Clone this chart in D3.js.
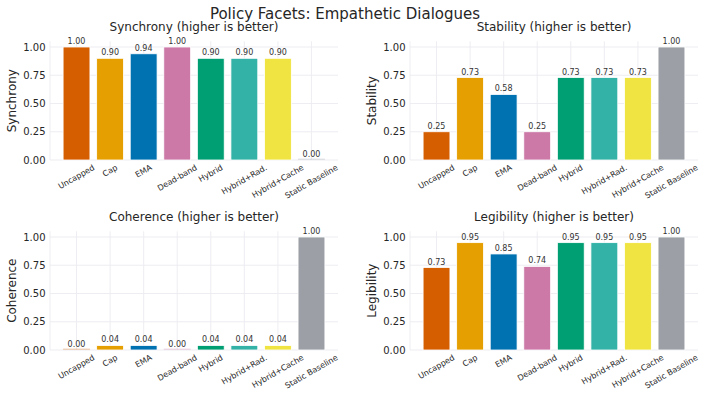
<!DOCTYPE html>
<html><head><meta charset="utf-8">
<script src="https://cdn.jsdelivr.net/npm/d3@7"></script>
<style>body{margin:0;background:#fff}svg{display:block;font-family:"DejaVu Sans",sans-serif}</style>
</head><body><svg id="c" width="707" height="398"></svg>
<script>
const categories = ["Uncapped","Cap","EMA","Dead-band","Hybrid","Hybrid+Rad.","Hybrid+Cache","Static Baseline"];
const colors = ["#D55E00","#E69F00","#0072B2","#CC79A7","#009E73","#33B2A7","#F0E442","#9CA0A6"];
const synchrony = [1.00,0.90,0.94,1.00,0.90,0.90,0.90,0.00];
const stability = [0.25,0.73,0.58,0.25,0.73,0.73,0.73,1.00];
const coherence = [0.00,0.04,0.04,0.00,0.04,0.04,0.04,1.00];
const legibility = [0.73,0.95,0.85,0.74,0.95,0.95,0.95,1.00];
const yTicks = [0,0.25,0.5,0.75,1.0];
const mainTitle = "Policy Facets: Empathetic Dialogues";

const panels = [
  {title:"Synchrony (higher is better)", label:"Synchrony", values:synchrony, x0:50, x1:338, top:41.35, bottom:160},
  {title:"Stability (higher is better)", label:"Stability", values:stability, x0:410, x1:698, top:41.35, bottom:160},
  {title:"Coherence (higher is better)", label:"Coherence", values:coherence, x0:50, x1:338, top:231.35, bottom:350},
  {title:"Legibility (higher is better)", label:"Legibility", values:legibility, x0:410, x1:698, top:231.35, bottom:350}
];

const svg = d3.select("#c");
svg.append("text").attr("x",345).attr("y",18.5).attr("text-anchor","middle")
  .attr("font-size",15).attr("fill","#262626").text(mainTitle);

const grid = "#ebebf1";
panels.forEach(p => {
  const x = d3.scaleBand().domain(categories).range([p.x0,p.x1]).paddingInner(0.2).paddingOuter(0.39);
  const y = d3.scaleLinear().domain([0,1.05]).range([p.bottom,p.top]);
  const g = svg.append("g");
  g.selectAll(".hg").data(yTicks).join("line")
    .attr("x1",p.x0).attr("x2",p.x1).attr("y1",d=>y(d)).attr("y2",d=>y(d))
    .attr("stroke",grid).attr("stroke-width",0.9);
  g.selectAll(".vg").data(categories).join("line")
    .attr("x1",d=>x(d)+x.bandwidth()/2).attr("x2",d=>x(d)+x.bandwidth()/2)
    .attr("y1",p.top).attr("y2",p.bottom).attr("stroke",grid).attr("stroke-width",0.9);
  g.append("line").attr("x1",p.x0).attr("x2",p.x0).attr("y1",p.top).attr("y2",p.bottom)
    .attr("stroke",grid).attr("stroke-width",0.9);
  const ya = d3.axisLeft(y).tickValues(yTicks).tickFormat(d3.format(".2f")).tickSize(0).tickPadding(4.5);
  const yg = g.append("g").attr("transform",`translate(${p.x0},0)`).call(ya);
  yg.select(".domain").remove();
  yg.selectAll("text").attr("font-size",10).attr("fill","#262626").attr("font-family","DejaVu Sans");
  const data = categories.map((c,i)=>({c, v:p.values[i], col:colors[i]}));
  g.selectAll(".bar").data(data).join("rect")
    .attr("x",d=>x(d.c)).attr("width",x.bandwidth())
    .attr("y",d=> d.v>0 ? y(d.v) : y(0)-1.5)
    .attr("height",d=> d.v>0 ? y(0)-y(d.v) : 1.5)
    .attr("fill",d=>d.col).attr("fill-opacity",d=>d.v>0?1:0.25)
    .attr("stroke","#fff").attr("stroke-width",d=>d.v>0?0.8:0);
  g.selectAll(".vl").data(data).join("text")
    .attr("x",d=>x(d.c)+x.bandwidth()/2).attr("y",d=>y(d.v)-3)
    .attr("text-anchor","middle").attr("font-size",8).attr("fill","#333")
    .text(d=>d.v.toFixed(2));
  const sin = Math.sin(Math.PI/6), cos = Math.cos(Math.PI/6);
  g.selectAll(".xl").data(categories).join("text")
    .attr("text-anchor","middle").attr("dominant-baseline","central")
    .attr("font-size",8).attr("fill","#262626").text(d=>d)
    .each(function(d){
      const L = this.getComputedTextLength();
      const h = 8;
      const boxH = L*sin + h*cos;
      const cx = x(d)+x.bandwidth()/2;
      const cy = p.bottom + 3.5 + boxH/2;
      d3.select(this).attr("transform",`translate(${cx},${cy}) rotate(-30)`);
    });
  g.append("text").attr("x",(p.x0+p.x1)/2).attr("y",p.top-10.5).attr("text-anchor","middle")
    .attr("font-size",12).attr("fill","#262626").text(p.title);
  g.append("text").attr("transform",`translate(${p.x0-34},${(p.top+p.bottom)/2}) rotate(-90)`)
    .attr("text-anchor","middle").attr("font-size",12).attr("fill","#262626").text(p.label);
});
</script></body></html>
